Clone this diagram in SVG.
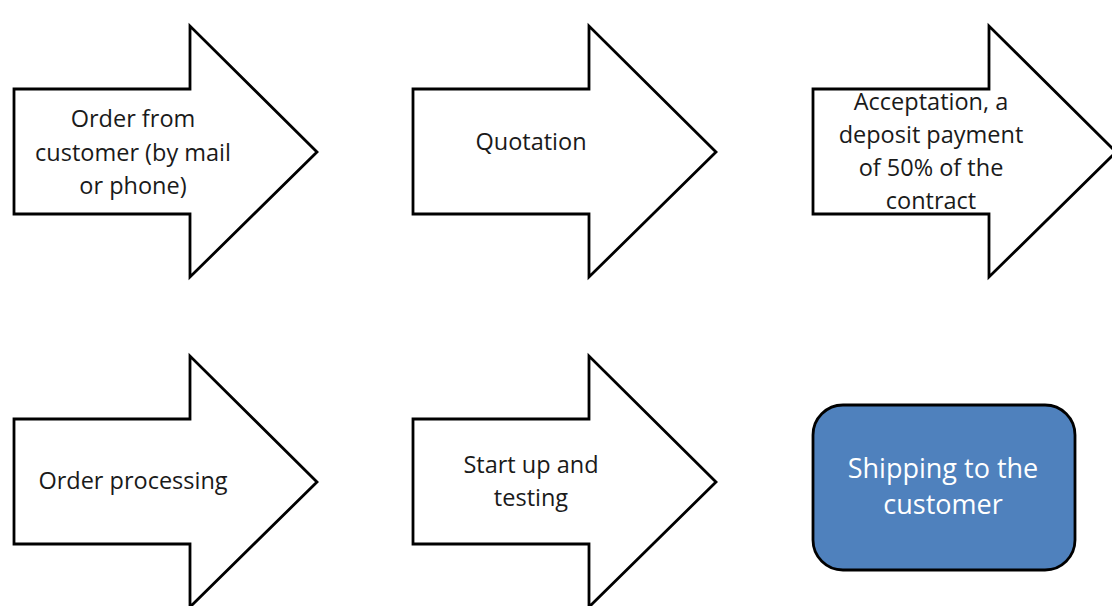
<svg xmlns="http://www.w3.org/2000/svg" width="1112" height="606" viewBox="0 0 1112 606">
<style>
.arrow{fill:#ffffff;stroke:#000000;stroke-width:2.8;stroke-linejoin:miter}
.t{font-family:"Open Sans","Liberation Sans",sans-serif;font-size:23.5px;fill:#1a1a1a;text-anchor:middle}
.w{font-family:"Open Sans","Liberation Sans",sans-serif;font-size:27px;fill:#ffffff;text-anchor:middle}
</style>
<defs>
<path id="arr" d="M0,63 L176,63 L176,0 L303,126 L176,251 L176,188 L0,188 Z"/>
</defs>
<rect width="1112" height="606" fill="#ffffff"/>
<g id="connectors"></g>
<g id="n1">
<use href="#arr" class="arrow" x="14" y="26"/>
<text class="t" x="133" y="127">Order from</text>
<text class="t" x="133" y="161">customer (by mail</text>
<text class="t" x="133" y="194">or phone)</text>
</g>
<g id="n2">
<use href="#arr" class="arrow" x="413" y="26"/>
<text class="t" x="531" y="150">Quotation</text>
</g>
<g id="n3">
<use href="#arr" class="arrow" x="813" y="26"/>
<text class="t" x="931" y="110">Acceptation, a</text>
<text class="t" x="931" y="143">deposit payment</text>
<text class="t" x="931" y="176">of 50% of the</text>
<text class="t" x="931" y="209">contract</text>
</g>
<g id="n4">
<use href="#arr" class="arrow" x="14" y="356"/>
<text class="t" x="133" y="489">Order processing</text>
</g>
<g id="n5">
<use href="#arr" class="arrow" x="413" y="356"/>
<text class="t" x="531" y="473">Start up and</text>
<text class="t" x="531" y="506">testing</text>
</g>
<g id="n6">
<rect x="813" y="405" width="262" height="165" rx="30" ry="30" fill="#4F81BD" stroke="#000000" stroke-width="2.8"/>
<text class="w" x="943" y="478">Shipping to the</text>
<text class="w" x="943" y="514">customer</text>
</g>
</svg>
